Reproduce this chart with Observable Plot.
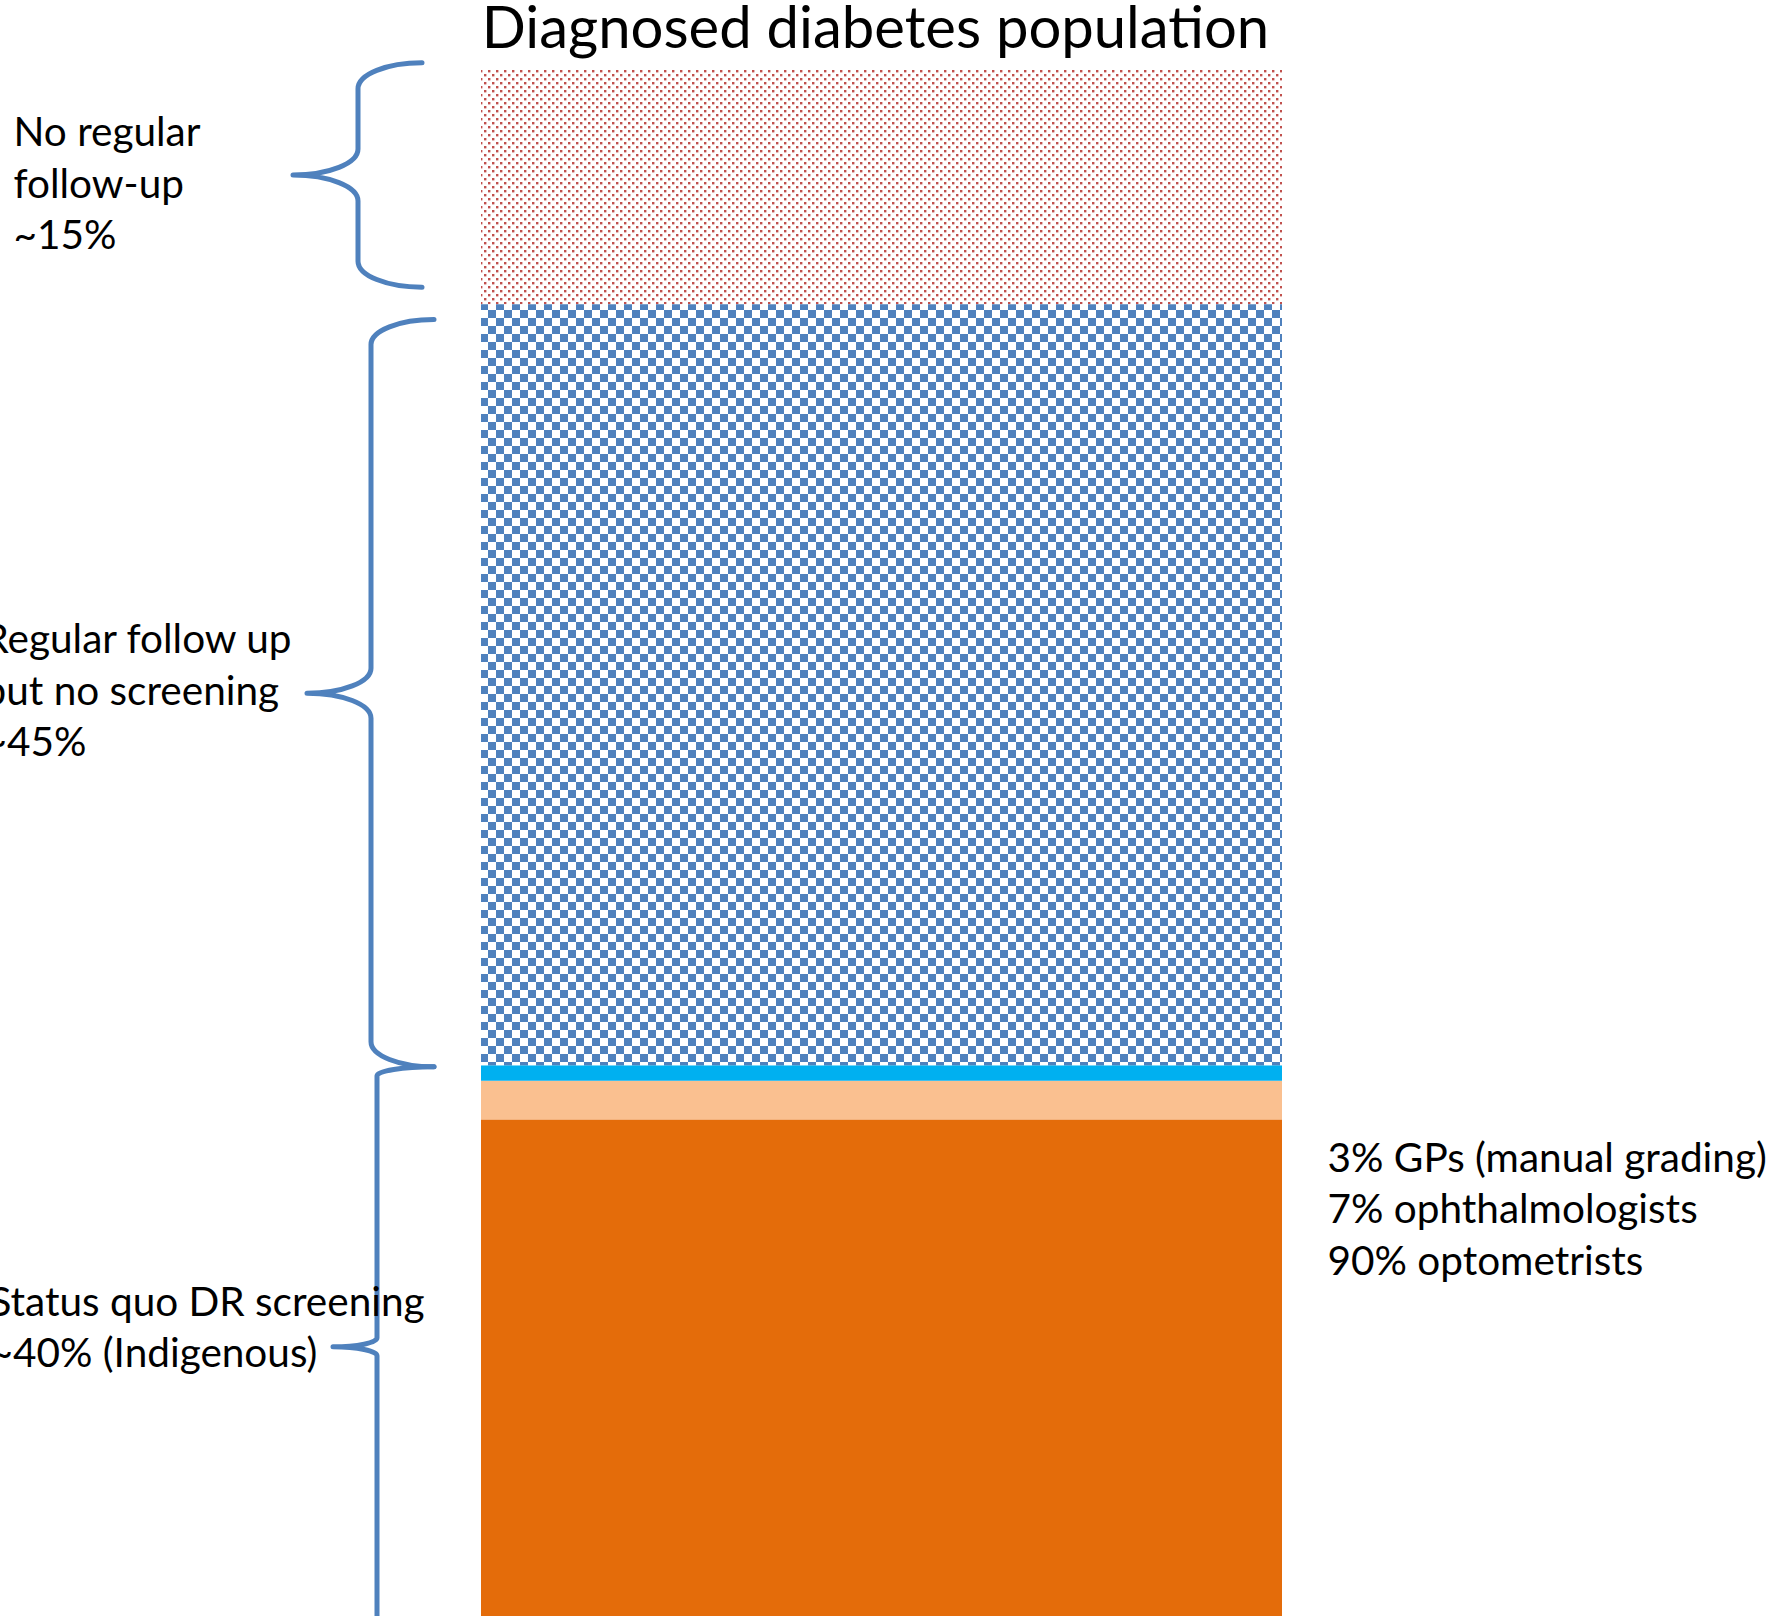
<!DOCTYPE html>
<html>
<head>
<meta charset="utf-8">
<script src="https://cdn.jsdelivr.net/npm/d3@7"></script>
<script src="https://cdn.jsdelivr.net/npm/@observablehq/plot@0.6"></script>
<style>
  html, body { margin: 0; padding: 0; background: #fff; }
  body { width: 1768px; height: 1616px; overflow: hidden; }
  #title { height: 62px; line-height: 52px; font-family: Lato, sans-serif; font-size: 58px; color: #000;
           text-align: center; padding-right: 17px; white-space: nowrap; }
  #chart svg { display: block; }
</style>
</head>
<body>
<svg width="0" height="0" style="position:absolute">
  <defs>
    <pattern id="redDots" width="8" height="8" patternUnits="userSpaceOnUse">
      <rect width="8" height="8" fill="#ffffff"/>
      <rect x="0" y="0" width="2.4" height="2.4" fill="#c0504d"/>
      <rect x="4" y="4" width="2.4" height="2.4" fill="#c0504d"/>
    </pattern>
    <pattern id="blueChecker" width="16" height="16" patternUnits="userSpaceOnUse">
      <rect width="16" height="16" fill="#ffffff"/>
      <rect x="0" y="0" width="8" height="8" fill="#4f81bd"/>
      <rect x="8" y="8" width="8" height="8" fill="#4f81bd"/>
    </pattern>
  </defs>
</svg>
<div id="title"></div>
<div id="chart"></div>
<script>
// ---- data (share of the visible bar height, bottom to top) ----
const titleText = "Diagnosed diabetes population";
const segmentNames = ["Optometrists", "Ophthalmologists", "GPs (manual grading)", "Regular follow up but no screening", "No regular follow-up"];
const segmentValues = [32.1, 2.5, 1.0, 49.2, 15.2];

// brace groups (top / bottom in the same value units)
const groupLabels = ["No regular\nfollow-up\n~15%", "Regular follow up\nbut no screening\n~45%", "Status quo DR screening\n~40% (Indigenous)"];
const braceTop = [100.4, 83.8, 35.5];
const braceBottom = [85.9, 35.5, -0.7];

const screeningLines = ["3% GPs (manual grading)", "7% ophthalmologists", "90% optometrists"];
const screeningLabelY = 26.5;

// ---- styles / layout (not data) ----
const segmentFills = ["#e46c0a", "#fac090", "#00b0f0", "url(#blueChecker)", "url(#redDots)"];
const braceColor = "#4f81bd";
const braceEndDx = [-59, -47, -47];
const braceVertDx = [-123, -110, -104];
const braceTipDx = [-188, -174, -148];
const braceRadius = [26, 25, 9];
const labelDx = [-468, -498, -492];
const labelDy = [5.6, -5.6, -22.5];
const fontSize = 40.5;
const lineHeight = 51.5 / 40.5;

document.getElementById("title").textContent = titleText;

// build stacked table
let acc = 0;
const segments = segmentNames.map((name, i) => {
  const y1 = acc; acc += segmentValues[i];
  return {name, y1, y2: acc, col: titleText};
});

const groups = groupLabels.map((label, i) => ({
  label, top: braceTop[i], bottom: braceBottom[i], mid: (braceTop[i] + braceBottom[i]) / 2, i
}));

function braceMark(index, scales, values, dimensions) {
  const ns = "http://www.w3.org/2000/svg";
  const g = document.createElementNS(ns, "g");
  const y = scales.y;
  const x0 = dimensions.marginLeft;
  groups.forEach((grp, i) => {
    const y0 = y(grp.top), y1 = y(grp.bottom), ym = (y0 + y1) / 2;
    const xe = x0 + braceEndDx[i], xv = x0 + braceVertDx[i], xt = x0 + braceTipDx[i];
    const r = braceRadius[i];
    const rx1 = xe - xv, rx2 = xv - xt;
    const d = `M${xe},${y0} A${rx1},${r} 0 0 0 ${xv},${y0 + r} L${xv},${ym - r} ` +
              `A${rx2},${r} 0 0 1 ${xt},${ym} A${rx2},${r} 0 0 1 ${xv},${ym + r} ` +
              `L${xv},${y1 - r} A${rx1},${r} 0 0 0 ${xe},${y1}`;
    const p = document.createElementNS(ns, "path");
    p.setAttribute("d", d);
    p.setAttribute("fill", "none");
    p.setAttribute("stroke", braceColor);
    p.setAttribute("stroke-width", 5);
    p.setAttribute("stroke-linecap", "round");
    p.setAttribute("stroke-linejoin", "round");
    g.appendChild(p);
  });
  return g;
}

const groupTextMarks = groups.map((grp, i) => Plot.text([grp], {
  y: "mid", text: "label", frameAnchor: "left", textAnchor: "start",
  dx: labelDx[i], dy: labelDy[i], fontSize, lineHeight, fill: "#000"
}));

const chart = Plot.plot({
  width: 1768,
  height: 1554,
  marginTop: 7,
  marginBottom: 0,
  marginLeft: 481,
  marginRight: 486,
  style: {fontFamily: "Lato, sans-serif", fontSize: "40px", background: "#fff", color: "#000", overflow: "visible"},
  x: {type: "band", domain: [titleText], padding: 0, axis: null},
  y: {domain: [0, 100], axis: null},
  color: {type: "ordinal", domain: segmentNames, range: segmentFills},
  marks: [
    Plot.barY(segments, {x: "col", y1: "y1", y2: "y2", fill: "name"}),
    braceMark,
    ...groupTextMarks,
    Plot.text([screeningLines.join("\n")], {
      y: () => screeningLabelY, text: d => d, frameAnchor: "right", textAnchor: "start",
      dx: 45, fontSize, lineHeight, fill: "#000"
    })
  ]
});

document.getElementById("chart").appendChild(chart);
</script>
</body>
</html>
